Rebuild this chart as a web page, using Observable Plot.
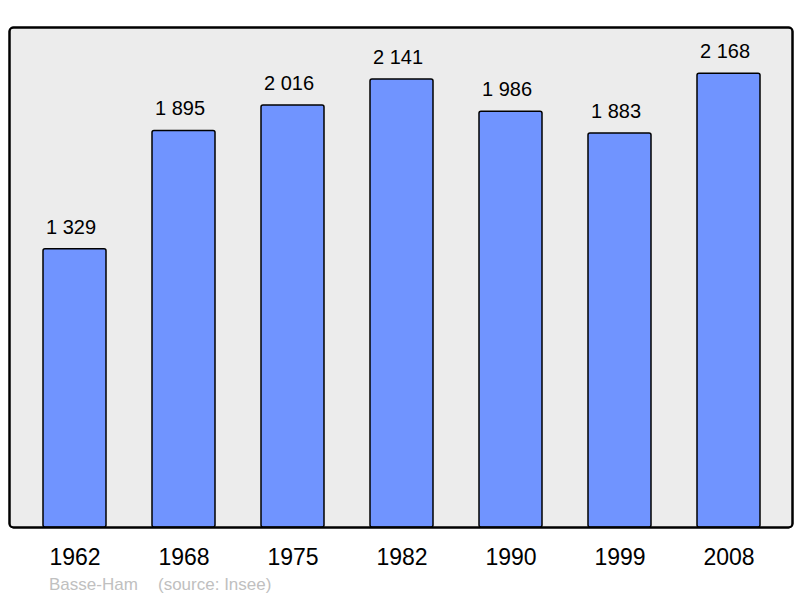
<!DOCTYPE html>
<html>
<head>
<meta charset="utf-8">
<script src="https://cdn.jsdelivr.net/npm/d3@7"></script>
<script src="https://cdn.jsdelivr.net/npm/@observablehq/plot@0.6"></script>
<style>
  html, body { margin: 0; padding: 0; background: #fff; }
  #wrap { position: relative; width: 800px; height: 598px; }
  .cap { position: absolute; top: 575px; font-family: "Liberation Sans", Arial, sans-serif; font-size: 17px; color: #c0c0c0; white-space: pre; }
</style>
</head>
<body>
<div id="wrap">
  <div id="chart"></div>
  <div class="cap" style="left:49px">Basse-Ham</div>
  <div class="cap" style="left:158px">(source: Insee)</div>
</div>
<script>
const years = ["1962", "1968", "1975", "1982", "1990", "1999", "2008"];
const population = [1329, 1895, 2016, 2141, 1986, 1883, 2168];
const labels = ["1 329", "1 895", "2 016", "2 141", "1 986", "1 883", "2 168"];

const data = years.map((y, i) => ({year: y, value: population[i], label: labels[i]}));

const chart = Plot.plot({
  width: 800,
  height: 598,
  marginLeft: 9,
  marginRight: 8,
  marginTop: 27,
  marginBottom: 71,
  style: {fontFamily: "'Liberation Sans', Arial, sans-serif", background: "transparent", overflow: "visible"},
  x: {domain: years, range: [41.5, 761], paddingInner: 0.4243, paddingOuter: 0, label: null},
  y: {domain: [0, 2389], axis: null},
  marks: [
    Plot.frame({fill: "#ececec", stroke: "#000", strokeWidth: 2, rx: 4}),
    Plot.barY(data, {x: "year", y: "value", fill: "#7094ff", stroke: "#000", strokeWidth: 1.5, rx: 2}),
    Plot.text(data, {x: "year", y: "value", text: "label", dx: -4, dy: -22, fontSize: 20, fill: "#000"}),
    Plot.axisX({tickSize: 0, tickPadding: 21, fontSize: 23, fill: "#000"}),
    Plot.frame({stroke: "#000", strokeWidth: 2, rx: 4, fill: "none"})
  ]
});
document.getElementById("chart").appendChild(chart);
</script>
</body>
</html>
